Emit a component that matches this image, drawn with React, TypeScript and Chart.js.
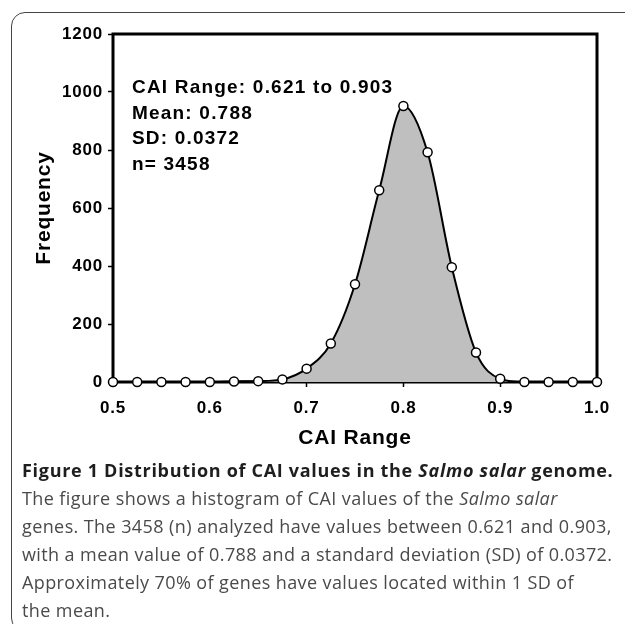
import React, { useEffect, useRef } from "react";
import { Chart, registerables } from "chart.js";

Chart.register(...registerables);

// ---- data ----
const caiBins = [0.5, 0.525, 0.55, 0.575, 0.6, 0.625, 0.65, 0.675, 0.7, 0.725, 0.75, 0.775, 0.8, 0.825, 0.85, 0.875, 0.9, 0.925, 0.95, 0.975, 1.0];
const frequency = [0, 0, 0, 0, 0, 2, 3, 9, 46, 133, 337, 661, 952, 792, 396, 102, 11, 0, 0, 0, 0];
const xTickValues = [0.5, 0.6, 0.7, 0.8, 0.9, 1.0];
const yTickValues = [0, 200, 400, 600, 800, 1000, 1200];
const statsLines = ["CAI Range: 0.621 to 0.903", "Mean: 0.788", "SD: 0.0372", "n= 3458"];
const xTitle = "CAI Range";
const yTitle = "Frequency";
const captionTitle = ["Figure 1 Distribution of CAI values in the ", "Salmo salar", " genome."];
const captionLine1 = ["The figure shows a histogram of CAI values of the ", "Salmo salar"];
const captionLines = [
  "genes. The 3458 (n) analyzed have values between 0.621 and 0.903,",
  "with a mean value of 0.788 and a standard deviation (SD) of 0.0372.",
  "Approximately 70% of genes have values located within 1 SD of",
  "the mean.",
];

const FONT = '"Liberation Sans", Arial, Helvetica, sans-serif';

const spacingPlugin = {
  id: "spacing",
  beforeInit(chart: any) {
    chart.ctx.letterSpacing = "0.8px";
  },
  beforeDraw(chart: any) {
    chart.ctx.letterSpacing = "0.8px";
  },
};

const framePlugin = {
  id: "plotFrame",
  beforeDatasetsDraw(chart: any) {
    const { ctx, chartArea } = chart;
    const { left, top, right, bottom } = chartArea;
    ctx.save();
    ctx.strokeStyle = "#000";
    ctx.lineWidth = 3;
    ctx.strokeRect(left, top, right - left, bottom - top);
    ctx.restore();
  },
};

const statsPlugin = {
  id: "stats",
  afterDatasetsDraw(chart: any) {
    const { ctx, chartArea } = chart;
    ctx.save();
    ctx.fillStyle = "#000";
    ctx.font = `bold 19px ${FONT}`;
    ctx.letterSpacing = "1.2px";
    ctx.textAlign = "left";
    ctx.textBaseline = "middle";
    statsLines.forEach((line, i) => {
      ctx.fillText(line, chartArea.left + 19, chartArea.top + 54 + i * 25.5);
    });
    ctx.restore();
  },
};

export default function App() {
  const ref = useRef<HTMLCanvasElement>(null);

  useEffect(() => {
    const canvas = ref.current;
    if (!canvas) return;
    const tickFont = { family: FONT, size: 17, weight: "bold" as const, lineHeight: 1.2 };
    const titleFont = { family: FONT, size: 21, weight: "bold" as const, lineHeight: 1.2 };
    const chart = new Chart(canvas, {
      type: "line",
      data: {
        datasets: [
          {
            data: caiBins.map((x, i) => ({ x, y: frequency[i] })),
            borderColor: "#000",
            borderWidth: 2,
            backgroundColor: "#bfbfbf",
            fill: "origin",
            cubicInterpolationMode: "monotone",
            pointRadius: 4.5,
            pointBackgroundColor: "#fff",
            pointBorderColor: "#000",
            pointBorderWidth: 1.5,
            clip: false as any,
          },
        ],
      },
      options: {
        animation: false,
        responsive: false,
        maintainAspectRatio: false,
        layout: { padding: { top: 34, right: 28, left: 0, bottom: 0 } },
        plugins: { legend: { display: false }, tooltip: { enabled: false } },
        scales: {
          x: {
            type: "linear",
            min: 0.5,
            max: 1.0,
            afterBuildTicks: (scale: any) => {
              scale.ticks = xTickValues.map((v) => ({ value: v }));
            },
            afterFit: (scale: any) => {
              scale.height = 78;
            },
            ticks: {
              callback: (v: any) => Number(v).toFixed(1),
              font: tickFont,
              color: "#000",
              padding: 11,
              maxRotation: 0,
              autoSkip: false,
            },
            grid: {
              display: true,
              drawOnChartArea: false,
              drawTicks: true,
              tickLength: 5,
              tickWidth: 1.5,
              tickColor: "#000",
            },
            border: { display: false },
            title: {
              display: true,
              text: xTitle,
              font: titleFont,
              color: "#000",
              padding: { top: 0, bottom: 9 },
            },
          },
          y: {
            type: "linear",
            min: 0,
            max: 1200,
            afterBuildTicks: (scale: any) => {
              scale.ticks = yTickValues.map((v) => ({ value: v }));
            },
            afterFit: (scale: any) => {
              scale.width = 113;
            },
            ticks: {
              callback: (v: any) => String(v),
              font: tickFont,
              color: "#000",
              padding: 5,
            },
            grid: {
              display: true,
              drawOnChartArea: false,
              drawTicks: true,
              tickLength: 5,
              tickWidth: 1.5,
              tickColor: "#000",
            },
            border: { display: false },
            title: {
              display: true,
              text: yTitle,
              font: titleFont,
              color: "#000",
              padding: { top: 32, bottom: 0 },
            },
          },
        },
      },
      plugins: [spacingPlugin, framePlugin, statsPlugin],
    } as any);
    return () => chart.destroy();
  }, []);

  return (
    <div
      style={{
        position: "absolute",
        left: 0,
        top: 0,
        width: 625,
        height: 624,
        overflow: "hidden",
        background: "#fff",
      }}
    >
      <div
        style={{
          position: "absolute",
          left: 11,
          top: 12,
          width: 700,
          height: 620,
          border: "1.5px solid #444",
          borderTopLeftRadius: 14,
          borderBottomLeftRadius: 14,
          boxSizing: "border-box",
        }}
      />
      <canvas
        ref={ref}
        width={625}
        height={460}
        style={{ position: "absolute", left: 0, top: 0, width: 625, height: 460 }}
      />
      <div
        style={{
          position: "absolute",
          left: 22,
          top: 456,
          fontFamily: '"Open Sans", sans-serif',
          fontSize: 18,
          lineHeight: "28px",
          color: "#4a4a4a",
          letterSpacing: "0.4px",
          whiteSpace: "nowrap",
        }}
      >
        <div style={{ fontWeight: 700, color: "#1e1e1e", letterSpacing: "0.7px" }}>
          {captionTitle[0]}
          <i>{captionTitle[1]}</i>
          {captionTitle[2]}
        </div>
        <div>
          {captionLine1[0]}
          <i>{captionLine1[1]}</i>
        </div>
        {captionLines.map((l, i) => (
          <div key={i}>{l}</div>
        ))}
      </div>
    </div>
  );
}
